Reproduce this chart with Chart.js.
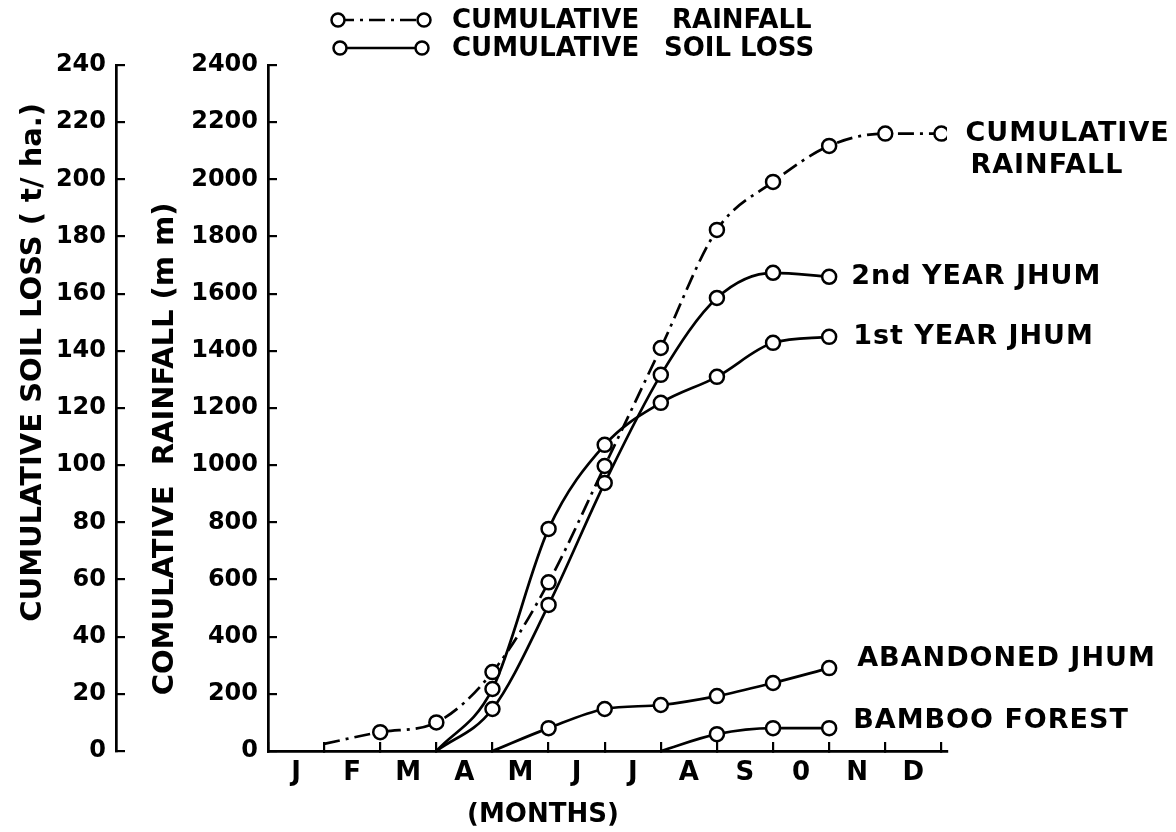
<!DOCTYPE html>
<html>
<head>
<meta charset="utf-8">
<script src="https://cdn.jsdelivr.net/npm/chart.js@4/dist/chart.umd.min.js"></script>
<style>
  html, body { margin: 0; padding: 0; background: #fff; }
  #wrap { width: 1176px; height: 832px; }
</style>
</head>
<body>
<div id="wrap"><canvas id="c" width="1176" height="832"></canvas></div>
<script>
// Month initials along the time axis (October is lettered as a zero)
const months = ['J', 'F', 'M', 'A', 'M', 'J', 'J', 'A', 'S', '0', 'N', 'D'];

// Month-end positions (1 = end of January ... 12 = end of December)
const rainMonths = [1, 2, 3, 4, 5, 6, 7, 8, 9, 10, 11, 12];
const rainfallMm = [25, 66, 100, 276, 590, 997, 1410, 1823, 1991, 2117, 2160, 2160];

const jhumMonths = [3, 4, 5, 6, 7, 8, 9, 10];
const firstYearJhum = [0, 21.7, 77.7, 107.1, 121.8, 130.9, 142.8, 144.9];
const secondYearJhum = [0, 14.7, 51.1, 93.8, 131.6, 158.5, 167.3, 165.9];

const abandonedMonths = [4, 5, 6, 7, 8, 9, 10];
const abandonedJhum = [0, 8.0, 14.7, 16.1, 19.2, 23.8, 29.0];

const bambooMonths = [7, 8, 9, 10];
const bambooForest = [0, 5.9, 8.0, 8.0];

// Axis ranges and tick steps
const soilTicks = { min: 0, max: 240, step: 20 };
const rainTicks = { min: 0, max: 2400, step: 200 };

// Text
const soilTitle = 'CUMULATIVE SOIL LOSS ( t/ ha.)';
const rainTitle = 'COMULATIVE  RAINFALL (m m)';
const monthsTitle = '(MONTHS)';
const legendRain = ['CUMULATIVE', 'RAINFALL'];
const legendSoil = ['CUMULATIVE', 'SOIL LOSS'];
const labelRain = ['CUMULATIVE', 'RAINFALL'];
const label2nd = ['2nd YEAR JHUM'];
const label1st = ['1st YEAR JHUM'];
const labelAbandoned = ['ABANDONED JHUM'];
const labelBamboo = ['BAMBOO FOREST'];

const FONT = 'DejaVu Sans';
const INK = '#000';
const LINE_W = 2.7;
const DASH_DOT = [16, 6, 3, 6];

function pts(xs, ys) { return xs.map((x, i) => ({ x, y: ys[i] })); }
function radii(n) { return Array.from({ length: n }, (_, i) => (i === 0 ? 0 : 7)); }

function series(label, xs, ys, axis, dash, endLabel, endOffset) {
  return {
    label,
    data: pts(xs, ys),
    yAxisID: axis,
    borderColor: INK,
    borderWidth: LINE_W,
    borderDash: dash,
    cubicInterpolationMode: 'monotone',
    pointRadius: radii(xs.length),
    pointHoverRadius: radii(xs.length),
    pointBorderWidth: 2.5,
    pointBorderColor: INK,
    pointBackgroundColor: '#fff',
    fill: false,
    endLabel,
    endOffset
  };
}

// Legend samples and text above the plot
const headerLegend = {
  id: 'headerLegend',
  afterDraw(chart) {
    const ctx = chart.ctx;
    const rows = [
      { y: 20, x1: 338, x2: 424, dash: DASH_DOT, words: legendRain, wx: [452, 672] },
      { y: 48, x1: 340, x2: 422, dash: [], words: legendSoil, wx: [452, 664] }
    ];
    ctx.save();
    rows.forEach(r => {
      ctx.strokeStyle = INK;
      ctx.lineWidth = LINE_W;
      ctx.setLineDash(r.dash);
      ctx.beginPath();
      ctx.moveTo(r.x1, r.y);
      ctx.lineTo(r.x2, r.y);
      ctx.stroke();
      ctx.setLineDash([]);
      [r.x1, r.x2].forEach(cx => {
        ctx.beginPath();
        ctx.arc(cx, r.y, 6.5, 0, Math.PI * 2);
        ctx.fillStyle = '#fff';
        ctx.fill();
        ctx.lineWidth = 2.5;
        ctx.stroke();
      });
      ctx.fillStyle = INK;
      ctx.font = 'bold 26px "' + FONT + '"';
      ctx.textAlign = 'left';
      ctx.textBaseline = 'middle';
      r.words.forEach((w, k) => ctx.fillText(w, r.wx[k], r.y + 1));
    });
    ctx.restore();
  }
};

// Names written beside the last point of each curve
const endLabels = {
  id: 'endLabels',
  afterDatasetsDraw(chart) {
    const ctx = chart.ctx;
    ctx.save();
    ctx.fillStyle = INK;
    ctx.font = 'bold 27px "' + FONT + '"';
    ctx.textAlign = 'left';
    ctx.textBaseline = 'middle';
    if ('letterSpacing' in ctx) ctx.letterSpacing = '1px';
    chart.data.datasets.forEach((ds, i) => {
      if (!ds.endLabel) return;
      const meta = chart.getDatasetMeta(i);
      const last = meta.data[meta.data.length - 1];
      const [dx, dy, lineGap, indent] = ds.endOffset;
      ds.endLabel.forEach((line, k) => {
        ctx.fillText(line, last.x + dx + (k ? indent : 0), last.y + dy + k * lineGap);
      });
    });
    ctx.restore();
  }
};

// Rotated axis titles and the months caption
const axisTitles = {
  id: 'axisTitles',
  afterDraw(chart) {
    const ctx = chart.ctx;
    const s = chart.scales;
    ctx.save();
    ctx.fillStyle = INK;
    ctx.font = 'bold 29px "' + FONT + '"';
    ctx.textAlign = 'center';
    ctx.textBaseline = 'middle';
    const rot = (text, x, y) => {
      ctx.save();
      ctx.translate(x, y);
      ctx.rotate(-Math.PI / 2);
      ctx.fillText(text, 0, 0);
      ctx.restore();
    };
    rot(soilTitle, s.ySoil.left + 33, s.ySoil.getPixelForValue(136));
    rot(rainTitle, s.yRain.left + 49, s.yRain.getPixelForValue(1057));
    ctx.font = 'bold 26px "' + FONT + '"';
    ctx.fillText(monthsTitle, s.x.getPixelForValue(4.9), s.x.bottom - 17);
    ctx.restore();
  }
};

const yAxis = (cfg, weight, width) => ({
  type: 'linear',
  position: 'left',
  weight,
  min: cfg.min,
  max: cfg.max,
  afterBuildTicks(scale) {
    const t = [];
    for (let v = cfg.min; v <= cfg.max; v += cfg.step) t.push({ value: v });
    scale.ticks = t;
  },
  afterFit(scale) { scale.width = width; },
  ticks: {
    color: INK,
    padding: 19,
    font: { family: FONT, size: 24, weight: 'bold' },
    callback: v => String(v)
  },
  grid: { drawOnChartArea: false, drawTicks: true, tickLength: -9, color: INK, lineWidth: 2.2 },
  border: { display: true, color: INK, width: 2.7 }
});

new Chart(document.getElementById('c'), {
  type: 'line',
  data: {
    datasets: [
      series('Cumulative rainfall', rainMonths, rainfallMm, 'yRain', DASH_DOT, labelRain, [24, 0, 32, 5]),
      series('2nd year jhum', jhumMonths, secondYearJhum, 'ySoil', [], label2nd, [22, 0, 0, 0]),
      series('1st year jhum', jhumMonths, firstYearJhum, 'ySoil', [], label1st, [24, 0, 0, 0]),
      series('Abandoned jhum', abandonedMonths, abandonedJhum, 'ySoil', [], labelAbandoned, [28, -9, 0, 0]),
      series('Bamboo forest', bambooMonths, bambooForest, 'ySoil', [], labelBamboo, [24, -7, 0, 0])
    ]
  },
  options: {
    responsive: false,
    animation: false,
    devicePixelRatio: 1,
    layout: { padding: { top: 65, right: 229, left: 0, bottom: 0 } },
    plugins: { legend: { display: false }, tooltip: { enabled: false } },
    events: [],
    scales: {
      x: {
        type: 'linear',
        position: 'bottom',
        min: 0,
        max: 12.1,
        afterBuildTicks(scale) {
          scale.ticks = months.map((m, i) => ({ value: i + 0.5 }));
        },
        afterFit(scale) { scale.height = 81; },
        ticks: {
          color: INK,
          autoSkip: false,
          maxRotation: 0,
          padding: 16,
          font: { family: FONT, size: 26, weight: 'bold' },
          callback: (v, i) => months[i]
        },
        grid: { offset: true, drawOnChartArea: false, drawTicks: true, tickLength: -9, color: INK, lineWidth: 2.2 },
        border: { display: true, color: INK, width: 2.7 }
      },
      yRain: yAxis(rainTicks, 0, 152),
      ySoil: yAxis(soilTicks, 1, 116)
    }
  },
  plugins: [headerLegend, endLabels, axisTitles]
});
</script>
</body>
</html>
